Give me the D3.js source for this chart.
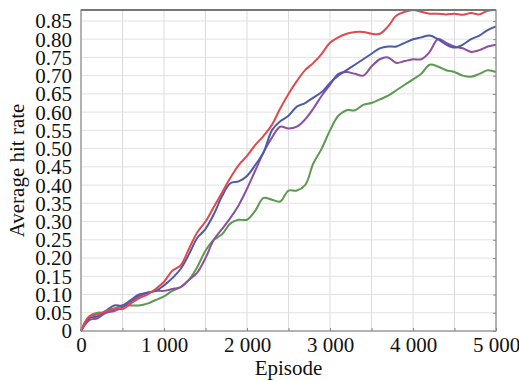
<!DOCTYPE html>
<html>
<head>
<meta charset="utf-8">
<script src="https://cdn.jsdelivr.net/npm/d3@7"></script>
<style>
  body { margin: 0; background: #fff; }
</style>
</head>
<body>
<svg id="chart" width="519" height="381"></svg>
<script>
const FONT = 'Liberation Serif'
const episodes = d3.range(0, 5001, 100)

const redSeries = [0, 0.04, 0.045, 0.055, 0.062, 0.06, 0.075, 0.09, 0.1, 0.115, 0.135, 0.165, 0.18, 0.225, 0.27, 0.30, 0.34, 0.38, 0.42, 0.455, 0.48, 0.51, 0.535, 0.565, 0.61, 0.65, 0.685, 0.715, 0.735, 0.76, 0.79, 0.805, 0.815, 0.82, 0.82, 0.815, 0.815, 0.835, 0.865, 0.875, 0.88, 0.875, 0.87, 0.87, 0.868, 0.87, 0.867, 0.872, 0.868, 0.878, 0.88]
const blueSeries = [0, 0.035, 0.04, 0.055, 0.07, 0.07, 0.085, 0.1, 0.105, 0.11, 0.125, 0.145, 0.17, 0.21, 0.255, 0.28, 0.32, 0.37, 0.405, 0.41, 0.425, 0.455, 0.49, 0.55, 0.575, 0.59, 0.615, 0.625, 0.64, 0.655, 0.68, 0.70, 0.715, 0.73, 0.745, 0.76, 0.775, 0.78, 0.78, 0.79, 0.80, 0.805, 0.81, 0.80, 0.785, 0.777, 0.785, 0.80, 0.81, 0.825, 0.835]
const purpleSeries = [0, 0.03, 0.035, 0.05, 0.055, 0.065, 0.08, 0.095, 0.105, 0.11, 0.11, 0.115, 0.12, 0.14, 0.16, 0.2, 0.25, 0.28, 0.31, 0.345, 0.39, 0.44, 0.49, 0.53, 0.56, 0.555, 0.56, 0.58, 0.61, 0.645, 0.675, 0.705, 0.71, 0.705, 0.70, 0.725, 0.745, 0.75, 0.735, 0.74, 0.745, 0.745, 0.765, 0.80, 0.79, 0.78, 0.775, 0.765, 0.77, 0.78, 0.785]
const greenSeries = [0, 0.04, 0.05, 0.05, 0.06, 0.07, 0.07, 0.07, 0.075, 0.085, 0.095, 0.11, 0.12, 0.14, 0.175, 0.22, 0.25, 0.265, 0.295, 0.305, 0.305, 0.33, 0.365, 0.36, 0.355, 0.385, 0.385, 0.40, 0.46, 0.50, 0.55, 0.59, 0.605, 0.605, 0.62, 0.625, 0.635, 0.645, 0.66, 0.675, 0.69, 0.705, 0.73, 0.725, 0.715, 0.71, 0.70, 0.697, 0.705, 0.715, 0.71]

const xGrid = d3.range(0, 5001, 500)
const yTicks = d3.range(0, 0.851, 0.05)

const series = [
  { name: 'green', values: greenSeries, color: '#5c9a50' },
  { name: 'purple', values: purpleSeries, color: '#8d4f9e' },
  { name: 'blue', values: blueSeries, color: '#4c5aa8' },
  { name: 'red', values: redSeries, color: '#e04a4e' }
]

const width = 519, height = 381
const marginLeft = 81, marginRight = 23, marginTop = 10, marginBottom = 50
const boundWidth = width - marginLeft - marginRight
const boundHeight = height - marginTop - marginBottom

const svg = d3.select('#chart')

const xScale = d3.scaleLinear().domain([0, 5000]).range([0, boundWidth])
const yScale = d3.scaleLinear().domain([0, 0.88]).range([boundHeight, 0])

const bounds = svg.append('g')
    .attr('transform', `translate(${marginLeft},${marginTop})`)

// grid
bounds.append('g')
  .selectAll('line')
  .data(xGrid)
  .join('line')
    .attr('x1', d => xScale(d)).attr('x2', d => xScale(d))
    .attr('y1', 0).attr('y2', boundHeight)
    .attr('stroke', '#dcdcdc').attr('stroke-width', 1)

bounds.append('g')
  .selectAll('line')
  .data(yTicks)
  .join('line')
    .attr('x1', 0).attr('x2', boundWidth)
    .attr('y1', d => yScale(d)).attr('y2', d => yScale(d))
    .attr('stroke', '#e2e2e2').attr('stroke-width', 1)

// lines
const line = d3.line()
    .x((d, i) => xScale(episodes[i]))
    .y(d => yScale(d))
    .curve(d3.curveCatmullRom)

bounds.append('g')
  .selectAll('path')
  .data(series)
  .join('path')
    .attr('d', d => line(d.values))
    .attr('fill', 'none')
    .attr('stroke', d => d.color)
    .attr('stroke-width', 2)
    .attr('stroke-linejoin', 'round')

// frame
bounds.append('rect')
    .attr('width', boundWidth).attr('height', boundHeight)
    .attr('fill', 'none').attr('stroke', '#8a8a8a').attr('stroke-width', 1.2)
bounds.append('line')
    .attr('x1', 0).attr('x2', boundWidth).attr('y1', 0).attr('y2', 0)
    .attr('stroke', '#777').attr('stroke-width', 2)

// axes
const xAxis = bounds.append('g')
    .attr('transform', `translate(0,${boundHeight})`)
    .call(d3.axisBottom(xScale).tickValues(xGrid).tickSize(-3)
      .tickFormat(d => d % 1000 === 0 ? d3.format(',')(d).replace(',', ' ') : ''))
xAxis.select('.domain').remove()
xAxis.selectAll('line').attr('stroke', '#888')
xAxis.selectAll('text')
    .style('font-family', FONT).style('font-size', '21px')
    .attr('dy', '0.86em').attr('fill', '#111')

const yAxis = bounds.append('g')
    .call(d3.axisLeft(yScale).tickValues(yTicks).tickSize(0).tickPadding(9)
      .tickFormat(d => d === 0 ? '0' : d3.format('.2f')(d)))
yAxis.select('.domain').remove()
yAxis.selectAll('text')
    .style('font-family', FONT).style('font-size', '21px')
    .attr('dy', '0.33em').attr('fill', '#111')

const yRight = bounds.append('g')
    .attr('transform', `translate(${boundWidth},0)`)
    .call(d3.axisLeft(yScale).tickValues(yTicks).tickSize(3).tickFormat(''))
yRight.select('.domain').remove()
yRight.selectAll('line').attr('stroke', '#888')

// titles
svg.append('text')
    .text('Episode')
    .attr('x', marginLeft + boundWidth / 2)
    .attr('y', 375)
    .attr('text-anchor', 'middle')
    .style('font-family', FONT).style('font-size', '21px')
    .attr('fill', '#111')

svg.append('text')
    .text('Average hit rate')
    .attr('transform', `translate(24,${marginTop + boundHeight / 2}) rotate(-90)`)
    .attr('text-anchor', 'middle')
    .style('font-family', FONT).style('font-size', '21px')
    .attr('fill', '#111')
</script>
</body>
</html>
